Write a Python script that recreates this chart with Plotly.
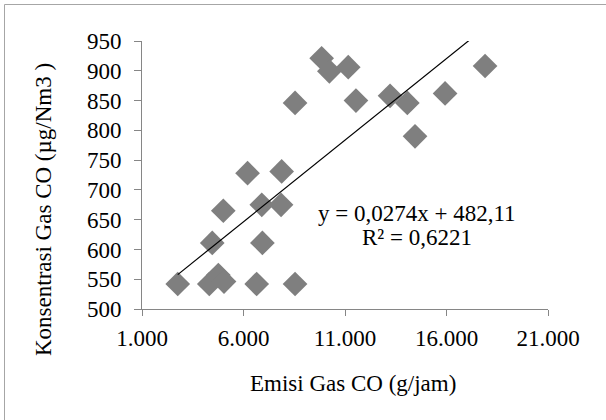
import plotly.graph_objects as go

# Data
emisi_co = [2760, 4315, 4760, 5040, 4460, 5005, 6200, 6650, 6900, 6930, 7850, 7880,
            8540, 8540, 9850, 10230, 11160, 11540, 13220, 14070, 14450, 15930, 17900]
konsentrasi_co = [542, 542, 557, 546, 611, 665, 728, 542, 675, 611, 675, 731,
                  846, 542, 921, 899, 906, 850, 858, 846, 790, 862, 908]

trend_slope = 0.0274
trend_intercept = 482.11
equation_text = "y = 0,0274x + 482,11"
r2_text = "R² = 0,6221"

x_tickvals = [1000, 6000, 11000, 16000, 21000]
x_ticktext = ["1.000", "6.000", "11.000", "16.000", "21.000"]
y_tickvals = [500, 550, 600, 650, 700, 750, 800, 850, 900, 950]

x_title = "Emisi Gas CO (g/jam)"
y_title = "Konsentrasi Gas CO (µg/Nm3 )"

FONT = "Liberation Serif"
FS = 23
AXIS_COLOR = "#868686"

W, H = 606, 420
L, R, T, B = 142, 58, 41, 111
PW, PH = W - L - R, H - T - B


def px_x(p):
    return (p - L) / PW


def px_y(p):
    return (H - B - p) / PH


trend_x = [min(emisi_co), max(emisi_co)]
trend_y = [trend_slope * v + trend_intercept for v in trend_x]

fig = go.Figure()
fig.add_trace(go.Scatter(
    x=emisi_co, y=konsentrasi_co, mode="markers",
    marker=dict(symbol="diamond", size=19, color="#7f7f7f", line=dict(width=0)),
    showlegend=False, cliponaxis=False,
))
fig.add_trace(go.Scatter(
    x=trend_x, y=trend_y, mode="lines",
    line=dict(color="#000000", width=1.2),
    showlegend=False,
))

axis_common = dict(
    showgrid=False, zeroline=False, showline=True, linecolor=AXIS_COLOR, linewidth=1,
    ticks="outside", tickcolor=AXIS_COLOR, tickwidth=1,
    tickfont=dict(family=FONT, size=FS, color="#000000"),
)

fig.update_xaxes(range=[1000, 21000], tickmode="array", tickvals=x_tickvals,
                 ticktext=x_ticktext, ticklen=6, ticklabelstandoff=2, **axis_common)
fig.update_yaxes(range=[500, 950], tickmode="array", tickvals=y_tickvals,
                 ticklen=7, ticklabelstandoff=8, **axis_common)

annotations = [
    dict(text=x_title, x=px_x(353), y=px_y(383), xref="paper", yref="paper",
         xanchor="center", yanchor="middle", showarrow=False,
         font=dict(family=FONT, size=FS, color="#000000")),
    dict(text=y_title, x=px_x(43), y=px_y(210), xref="paper", yref="paper",
         xanchor="center", yanchor="middle", showarrow=False, textangle=-90,
         font=dict(family=FONT, size=FS, color="#000000")),
    dict(text=equation_text, x=px_x(417), y=px_y(213), xref="paper", yref="paper",
         xanchor="center", yanchor="middle", showarrow=False,
         font=dict(family=FONT, size=FS, color="#000000")),
    dict(text=r2_text, x=px_x(417), y=px_y(237), xref="paper", yref="paper",
         xanchor="center", yanchor="middle", showarrow=False,
         font=dict(family=FONT, size=FS, color="#000000")),
]

shapes = [
    dict(type="rect", xref="paper", yref="paper",
         x0=px_x(4.5), x1=px_x(W + 20), y0=px_y(H + 20), y1=px_y(4.5),
         line=dict(color="#a6a6a6", width=1), fillcolor="rgba(0,0,0,0)", layer="below"),
]

fig.update_layout(
    width=W, height=H,
    margin=dict(l=L, r=R, t=T, b=B, pad=0),
    paper_bgcolor="#ffffff", plot_bgcolor="#ffffff",
    annotations=annotations, shapes=shapes,
    showlegend=False,
)

fig.write_html("out.html")
